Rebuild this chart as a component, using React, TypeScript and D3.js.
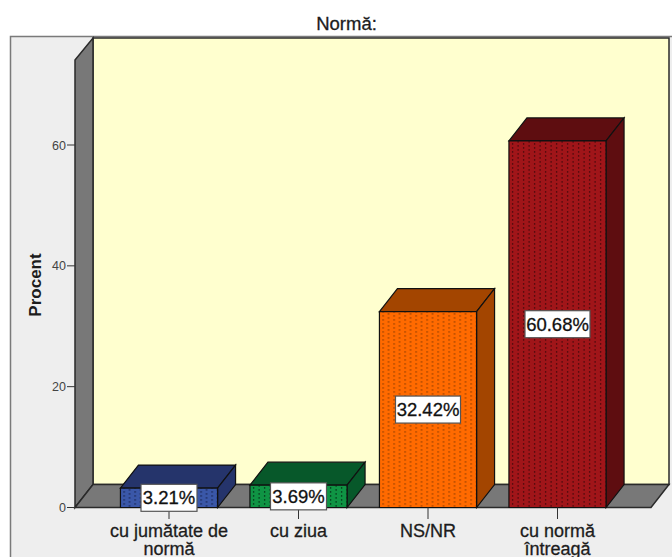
import React from "react";
import * as d3 from "d3";

const categories = ["cu jumătate de norma", "cu ziua", "NS/NR", "cu normă întreagă"];
const categoryLines = [["cu jumătate de", "normă"], ["cu ziua"], ["NS/NR"], ["cu normă", "întreagă"]];
const values = [3.21, 3.69, 32.42, 60.68];
const valueLabels = ["3.21%", "3.69%", "32.42%", "60.68%"];
const yTicks = [0, 20, 40, 60];
const frontColors = ["#3a57a8", "#0f9444", "#ff6a00", "#a01519"];
const darkColors = ["#25346b", "#07582a", "#a34500", "#5e0d10"];
const dotColors = ["#1d2c60", "#06431f", "#a84600", "#560a0d"];

const W = 672, H = 557;
const DX = 18, DY = 23;
const FONT = "'Liberation Sans', Arial, sans-serif";
const INK = "#1c1c1c";

export default function App() {
  const y = d3.scaleLinear().domain([0, 60]).range([507.5, 145]);
  const x = d3.scaleBand<string>().domain(categories).range([104.25, 622.25]).paddingInner(0.25).paddingOuter(0.125);
  const left = 75, right = 651, top = 60, base = y(0);
  const poly = (pts: [number, number][]) => pts.map(p => p.join(",")).join(" ");
  return (
    <svg width={W} height={H} style={{ position: "fixed", left: 0, top: 0, display: "block" }} fontFamily={FONT}>
      <defs>
        {categories.map((_, i) => (
          <pattern key={i} id={`dots${i}`} width={11} height={8} x={x(categories[i])! + 3} y={3} patternUnits="userSpaceOnUse">
            <rect x={0} y={0} width={1.3} height={1.8} fill={dotColors[i]} />
            <rect x={0} y={4} width={1.3} height={1.8} fill={dotColors[i]} />
            <rect x={5.5} y={2} width={1.3} height={1.8} fill={dotColors[i]} />
            <rect x={5.5} y={6} width={1.3} height={1.8} fill={dotColors[i]} />
          </pattern>
        ))}
      </defs>
      <rect x={0} y={0} width={W} height={H} fill="#fff" />
      <rect x={10.5} y={36.5} width={W + 10} height={H} fill="#eeeeee" stroke="#7a7a7a" strokeWidth={1.5} />
      <text x={346.5} y={30} fontSize={18.5} textAnchor="middle" fill={INK} stroke={INK} strokeWidth={0.3}>Normă:</text>

      <rect x={left + DX} y={38} width={right - left} height={base - DY - 38} fill="#ffffcf" stroke="#2a2a2a" strokeWidth={1.5} />
      <polygon points={poly([[left, top], [left + DX, 38], [left + DX, base - DY], [left, base]])} fill="#787878" stroke="#2a2a2a" strokeWidth={1.5} />
      <polygon points={poly([[left, base], [left + DX, base - DY], [right + DX, base - DY], [right, base]])} fill="#787878" stroke="#2a2a2a" strokeWidth={1.5} />

      {yTicks.map(t => (
        <g key={t}>
          <line x1={left - 8} x2={left} y1={y(t)} y2={y(t)} stroke="#333" strokeWidth={1} />
          <text x={left - 9} y={y(t) + 4.5} fontSize={12.5} textAnchor="end" fill="#444">{t}</text>
        </g>
      ))}
      <text transform="translate(41,285) rotate(-90)" fontSize={17} fontWeight="bold" textAnchor="middle" fill={INK}>Procent</text>

      {categories.map((c, i) => {
        const x0 = x(c)!, w = x.bandwidth(), yt = y(values[i]);
        const x1 = x0 + w;
        const front: [number, number][] = [[x0, yt], [x1, yt], [x1, base], [x0, base]];
        return (
          <g key={c}>
            <polygon points={poly([[x0, yt], [x0 + DX, yt - DY], [x1 + DX, yt - DY], [x1, yt]])} fill={darkColors[i]} stroke="#111" strokeWidth={1.2} />
            <polygon points={poly([[x1, yt], [x1 + DX, yt - DY], [x1 + DX, base - DY], [x1, base]])} fill={darkColors[i]} stroke="#111" strokeWidth={1.2} />
            <polygon points={poly(front)} fill={frontColors[i]} />
            <polygon points={poly(front)} fill={`url(#dots${i})`} stroke="#111" strokeWidth={1.2} />
          </g>
        );
      })}

      {categories.map((c, i) => {
        const cx = x(c)! + x.bandwidth() / 2;
        return (
          <g key={c}>
            <line x1={cx} x2={cx} y1={base} y2={519} stroke="#333" strokeWidth={1} />
            {categoryLines[i].map((l, k) => (
              <text key={l} x={cx} y={537 + k * 18} fontSize={18} textAnchor="middle" fill={INK} stroke={INK} strokeWidth={0.3}>{l}</text>
            ))}
          </g>
        );
      })}

      {categories.map((c, i) => {
        const cx = x(c)! + x.bandwidth() / 2;
        const cy = (y(values[i]) + base) / 2;
        const bw = valueLabels[i].length * 9 + 11;
        return (
          <g key={c}>
            <rect x={cx - bw / 2} y={cy - 13.5} width={bw} height={27} fill="#fff" stroke="#555" strokeWidth={1.2} />
            <text x={cx} y={cy + 6.5} fontSize={18.5} textAnchor="middle" fill="#111" stroke="#111" strokeWidth={0.3}>{valueLabels[i]}</text>
          </g>
        );
      })}
    </svg>
  );
}
